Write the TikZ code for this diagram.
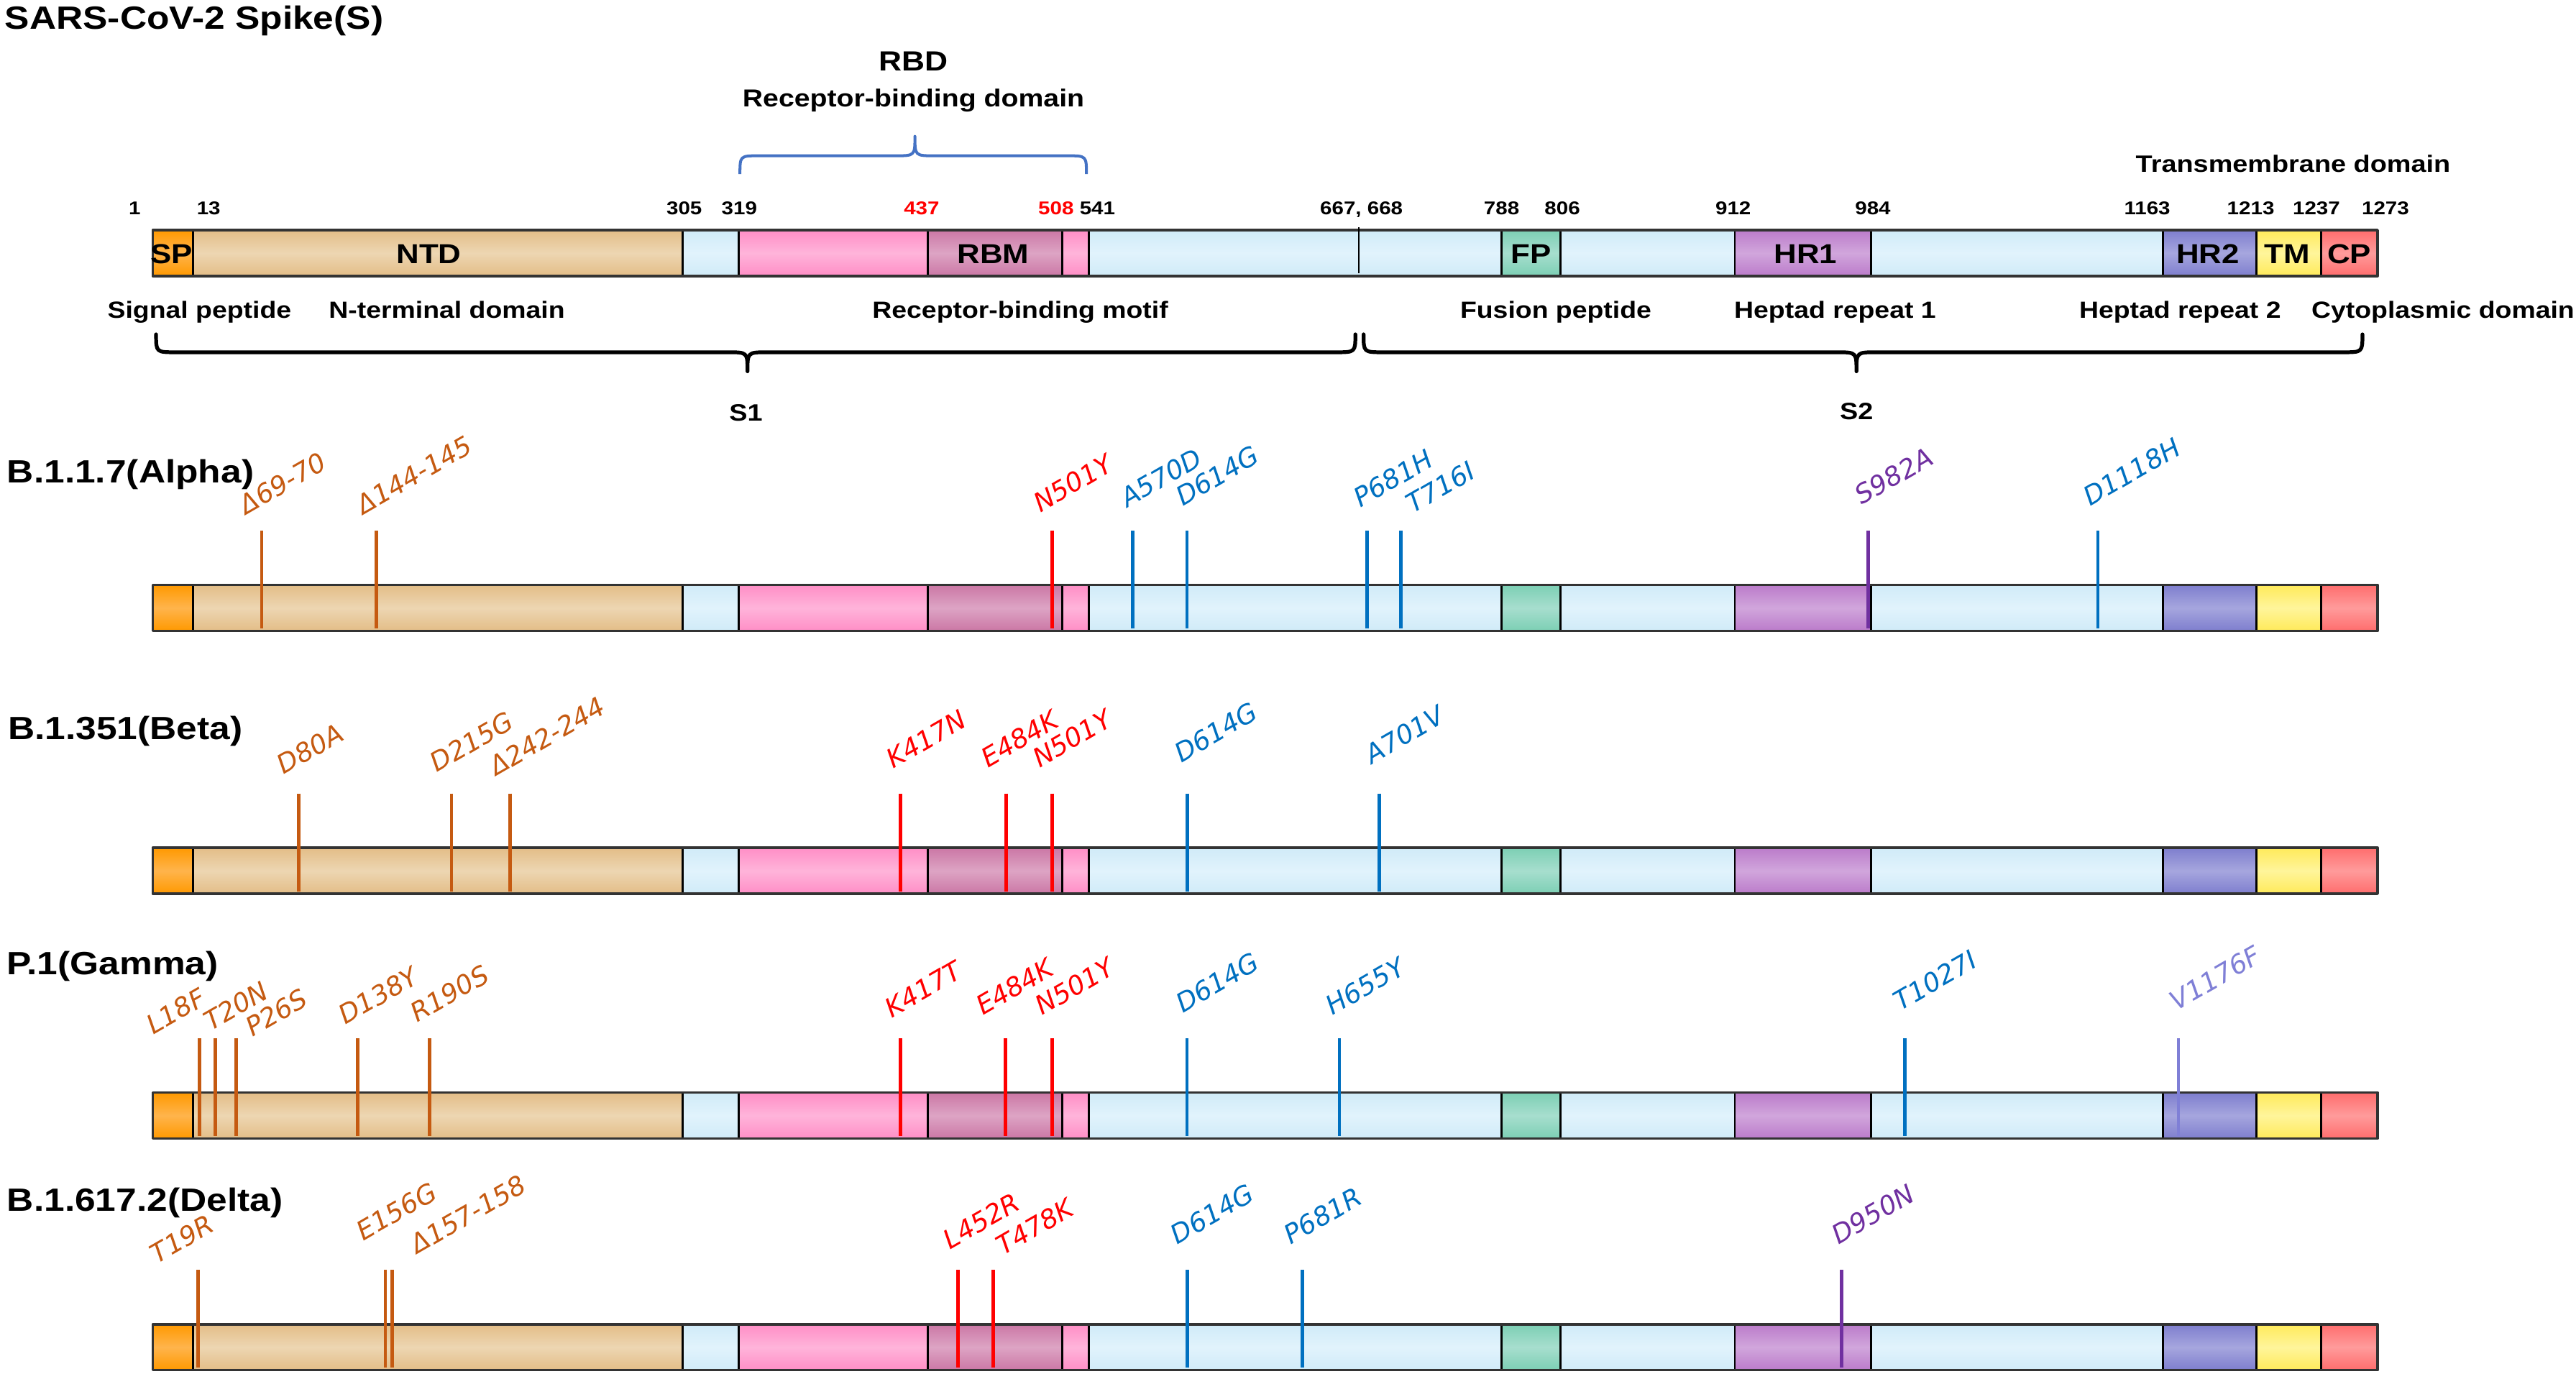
\documentclass[tikz,border=0pt]{standalone}
\usepackage{fontspec}
\setmainfont{Liberation Sans}[FakeStretch=1.15]
\newfontfamily\mutfont{DejaVu Sans}
\usetikzlibrary{positioning}
% domain colours (dark band / light band)
\definecolor{dk-sp}{HTML}{FF9900}\definecolor{lt-sp}{HTML}{FFB44C}
\definecolor{dk-ntd}{HTML}{E3BD87}\definecolor{lt-ntd}{HTML}{EDD6B2}
\definecolor{dk-lb}{HTML}{D0EBF8}\definecolor{lt-lb}{HTML}{E1F3FC}
\definecolor{dk-rbd}{HTML}{FF8EC6}\definecolor{lt-rbd}{HTML}{FFB4DA}
\definecolor{dk-rbm}{HTML}{CB77A5}\definecolor{lt-rbm}{HTML}{DDA4C4}
\definecolor{dk-fp}{HTML}{7CCFB4}\definecolor{lt-fp}{HTML}{A7DECE}
\definecolor{dk-hra}{HTML}{BB7BCA}\definecolor{lt-hra}{HTML}{D1A6DC}
\definecolor{dk-hrb}{HTML}{7E7ECE}\definecolor{lt-hrb}{HTML}{A6A6DE}
\definecolor{dk-tm}{HTML}{FFEA5A}\definecolor{lt-tm}{HTML}{FFF59B}
\definecolor{dk-cp}{HTML}{FF6D6D}\definecolor{lt-cp}{HTML}{FF9B9B}
% mutation colours
\definecolor{mutO}{HTML}{C55A11}
\definecolor{mutR}{HTML}{FF0000}
\definecolor{mutB}{HTML}{0070C0}
\definecolor{mutP}{HTML}{7030A0}
\definecolor{mutL}{HTML}{7F7FD6}
\definecolor{rbdblue}{HTML}{4472C4}
\newcommand{\fsz}[1]{\fontsize{#1}{#1}\selectfont}
\tikzset{
  seg edge/.style={black, line width=0.7pt},
  bar edge/.style={draw=black!80, line width=0.85pt},
  mutline/.style={line width=1.2pt},
  mutlab/.style={font=\mutfont\itshape\fsz{9.1}, rotate=30, anchor=base west, inner sep=0pt},
  numlab/.style={font=\bfseries\fsz{6.4}, anchor=base, inner sep=0pt},
  boxlab/.style={font=\bfseries\fsz{9.5}, anchor=base, inner sep=0pt},
  domlab/.style={font=\bfseries\fsz{8.1}, anchor=base, inner sep=0pt},
  rowlab/.style={font=\bfseries\fsz{11.15}, anchor=base west, inner sep=0pt},
  brace/.style={line width=1.3pt, line cap=round}
}
% one spike bar, #1 = top edge
\newcommand{\spikebar}[1]{%
  \foreach \xa/\xb/\col in {93/117.6/sp,117.6/415.5/ntd,415.5/449.7/lb,449.7/564.8/rbd,564.8/646.7/rbm,646.7/662.8/rbd,662.8/913.8/lb,913.8/950/fp,950/1056/lb,1056/1139/hra,1139/1316.5/lb,1316.5/1373.6/hrb,1373.6/1413/tm,1413/1447.2/cp}
    \shade[top color=dk-\col, bottom color=dk-\col, middle color=lt-\col] (\xa,#1) rectangle (\xb,#1+28);
  \foreach \xa in {117.6,415.5,449.7,564.8,646.7,662.8,913.8,950,1056,1139,1316.5,1373.6,1413}
    \draw[seg edge] (\xa,#1) -- (\xa,#1+28);
  \draw[bar edge] (93,#1) rectangle (1447.2,#1+28);
}
% mutations of one variant, #1 = bar top, #2 = row name, #3 = list
\newcommand{\mutations}[3]{%
  \foreach \x/\lx/\ly/\txt/\col [count=\i] in {#3}{
    \draw[mutline, draw=\col] (\x,#1-33) -- (\x,#1+26.5);
    \node[mutlab, text=\col] (#2-\i) at (\lx,\ly) {\txt};
  }
}
\begin{document}
\begin{tikzpicture}[x=0.02cm, y=-0.02cm, line join=round]
	\useasboundingbox (0,0) rectangle (1568,836);
	\node[rowlab] (title) at (2.7,17.5) {SARS-CoV-2 Spike(S)};
	% RBD bracket
	\node[font=\bfseries\fsz{9.6}, anchor=base, inner sep=0pt] (rbd) at (556,43) {RBD};
	\node[font=\bfseries\fsz{8.5}, anchor=base, inner sep=0pt] (rbdname) at (556,65) {Receptor-binding domain};
	\draw[rbdblue, line width=1pt] (450.4,106) .. controls (450.4,94.8) .. (462,94.8) -- (545,94.8) .. controls (556.9,94.8) .. (556.9,83) .. controls (556.9,94.8) .. (568.8,94.8) -- (649.5,94.8) .. controls (661.3,94.8) .. (661.3,106);
	\node[font=\bfseries\fsz{8.2}, anchor=base, inner sep=0pt] (tmname) at (1395.8,105) {Transmembrane domain};
	% residue numbers
	\foreach \x/\n [count=\i] in {82/1,127/13,416.5/305,450/319,668/541,828.7/{667, 668},914/788,951/806,1055/912,1140/984,1307/1163,1370/1213,1410/1237,1452/1273}
		\node[numlab] (num\i) at (\x,130.6) {\n};
	\node[numlab, text=mutR] (num437) at (561,130.6) {437};
	\node[numlab, text=mutR] (num508) at (642.8,130.6) {508};
	% full length spike
	\spikebar{140}
	\draw[black, line width=0.5pt] (827,138.3) -- (827,166.3);
	\foreach \x/\t [count=\i] in {104.5/SP,261/NTD,604.6/RBM,932/FP,1099/HR1,1344/HR2,1392/TM,1430/CP}
		\node[boxlab] (dom\i) at (\x,160.5) {\t};
	\foreach \x/\t [count=\i] in {121.4/Signal peptide,272/N-terminal domain,621/Receptor-binding motif,947/Fusion peptide,1117/Heptad repeat 1,1327/Heptad repeat 2,1487/Cytoplasmic domain}
		\node[domlab] (name\i) at (\x,193.5) {\t};
	% S1 and S2
	\draw[brace] (95,203.5) .. controls (95,214.4) .. (107,214.4) -- (443,214.4) .. controls (455,214.4) .. (455,226) .. controls (455,214.4) .. (467,214.4) -- (813,214.4) .. controls (825,214.4) .. (825,203.5);
	\draw[brace] (830,203.5) .. controls (830,214.4) .. (842,214.4) -- (1118,214.4) .. controls (1130,214.4) .. (1130,226) .. controls (1130,214.4) .. (1142,214.4) -- (1426,214.4) .. controls (1438,214.4) .. (1438,203.5);
	\node[domlab, font=\bfseries\fsz{8.2}] (s1) at (454,256) {S1};
	\node[domlab, font=\bfseries\fsz{8.2}] (s2) at (1130,255.5) {S2};
	% B.1.1.7
	\node[rowlab] (alpha) at (4,294) {B.1.1.7(Alpha)};
	\spikebar{356}
	\mutations{356}{alpha}{159.3/149.7/313.6/Δ69-70/mutO, 229/221/313.6/Δ144-145/mutO, 640.6/633/312.2/N501Y/mutR, 689.4/686/309.3/A570D/mutB, 722.5/719.6/308.6/D614G/mutB, 832.2/828/309.3/P681H/mutB, 852.8/860/312.9/T716I/mutB, 1137/1133/307.8/S982A/mutP, 1277/1272/308.6/D1118H/mutB}
	% B.1.351
	\node[rowlab] (beta) at (4.6,450) {B.1.351(Beta)};
	\spikebar{516}
	\mutations{516}{beta}{181.7/172.5/471.9/D80A/mutO, 274.8/265.7/470.5/D215G/mutO, 310.5/301.9/472.7/Δ242-244/mutO, 548/543.4/468.3/K417N/mutR, 612.3/601/467.6/E484K/mutR, 640.5/632.5/467.6/N501Y/mutR, 722.7/718.8/464.6/D614G/mutB, 839.4/835/465.4/A701V/mutB}
	% P.1
	\node[rowlab] (gamma) at (4,593) {P.1(Gamma)};
	\spikebar{665}
	\mutations{665}{gamma}{121.6/93/630.2/L18F/mutO, 131.1/128.1/627.9/T20N/mutO, 143.7/153.3/631.5/P26S/mutO, 217.6/210/624.2/D138Y/mutO, 261.3/253.8/622.8/R190S/mutO, 548.2/542.7/619.9/K417T/mutR, 612/598/618.5/E484K/mutR, 640.6/634/618.5/N501Y/mutR, 722.5/719.6/617/D614G/mutB, 815.3/811/618.5/H655Y/mutB, 1159.6/1156.7/615.6/T1027I/mutB, 1326/1324.6/615.6/V1176F/mutL}
	% B.1.617.2
	\node[rowlab] (delta) at (4,737) {B.1.617.2(Delta)};
	\spikebar{806}
	\mutations{806}{delta}{120.6/95.5/769.5/T19R/mutO, 234.6/221/755.7/E156G/mutO, 238.7/253.8/763.7/Δ157-158/mutO, 583.3/578/760.8/L452R/mutR, 604.4/610.6/764.5/T478K/mutR, 722.8/716.5/757.8/D614G/mutB, 792.6/785.6/757.8/P681R/mutB, 1120.8/1118.9/757.8/D950N/mutP}
\end{tikzpicture}
\end{document}
